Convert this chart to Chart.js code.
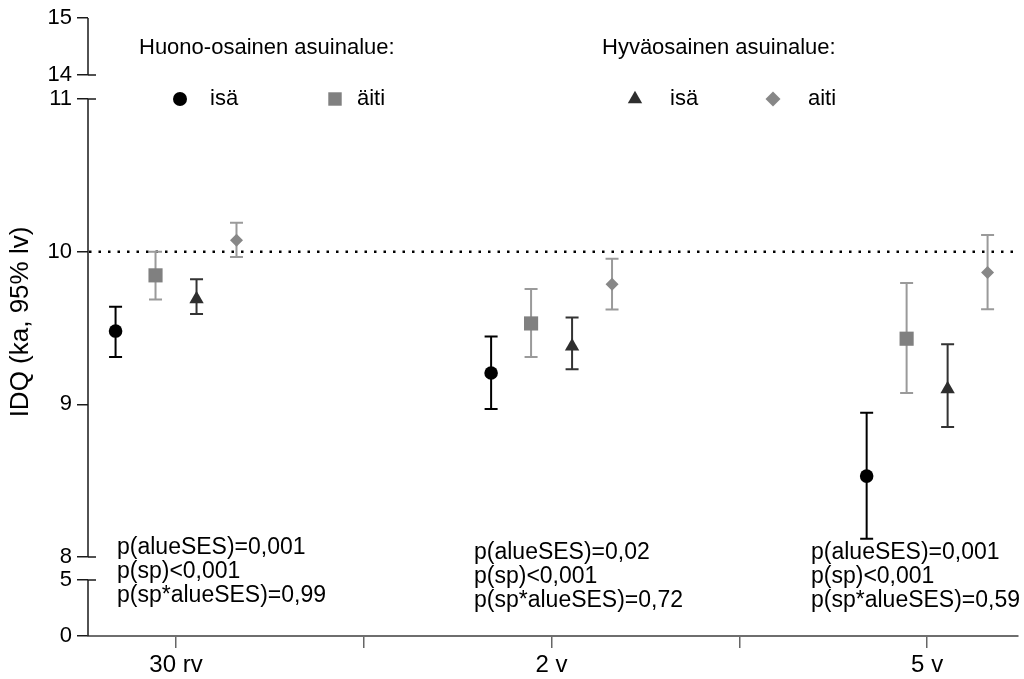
<!DOCTYPE html>
<html>
<head>
<meta charset="utf-8">
<script src="https://cdn.jsdelivr.net/npm/chart.js@4.4.1/dist/chart.umd.min.js"></script>
<style>
  body { margin: 0; background: #fff; }
  canvas { display: block; }
</style>
</head>
<body>
<canvas id="idqChart" width="1024" height="679"></canvas>
<script>
// Data
const categories = ['30 rv', '2 v', '5 v'];
const yTicks = [0, 5, 8, 9, 10, 11, 14, 15];
const refValue = 10;

// Huono-osainen asuinalue
const isaHuono = [9.48, 9.205, 8.53];
const isaHuonoLow = [9.31, 8.97, 8.12];
const isaHuonoHigh = [9.64, 9.445, 8.945];
const aitiHuono = [9.845, 9.53, 9.43];
const aitiHuonoLow = [9.687, 9.31, 9.075];
const aitiHuonoHigh = [10.0, 9.755, 9.795];

// Hyväosainen asuinalue
const isaHyva = [9.69, 9.38, 9.10];
const isaHyvaLow = [9.592, 9.23, 8.851];
const isaHyvaHigh = [9.82, 9.569, 9.393];
const aitiHyva = [10.075, 9.787, 9.864];
const aitiHyvaLow = [9.966, 9.621, 9.623];
const aitiHyvaHigh = [10.19, 9.953, 10.11];

const pNotes = [
    ['p(alueSES)=0,001', 'p(sp)<0,001', 'p(sp*alueSES)=0,99'],
    ['p(alueSES)=0,02', 'p(sp)<0,001', 'p(sp*alueSES)=0,72'],
    ['p(alueSES)=0,001', 'p(sp)<0,001', 'p(sp*alueSES)=0,59']
];

const FONT = '"Liberation Sans", Arial, sans-serif';
Chart.defaults.font.family = FONT;
Chart.defaults.color = '#000';

// broken y axis: each value range gets its own share of the plot height (fraction from bottom)
const ySegments = [
    { from: 0, to: 5, start: 0, end: 0.0906 },
    { from: 8, to: 11, start: 0.1278, end: 0.8689 },
    { from: 14, to: 15, start: 0.9078, end: 1 }
];

function fractionFor(v) {
    for (let i = 0; i < ySegments.length; i++) {
        const s = ySegments[i];
        if (v <= s.to || i === ySegments.length - 1) {
            if (v < s.from && i > 0) {
                // inside a gap: interpolate between the two segment ends
                const p = ySegments[i - 1];
                return p.end + (v - p.to) / (s.from - p.to) * (s.start - p.end);
            }
            return s.start + (v - s.from) / (s.to - s.from) * (s.end - s.start);
        }
    }
    return 0;
}

function valueFor(f) {
    for (let i = 0; i < ySegments.length; i++) {
        const s = ySegments[i];
        if (f <= s.end || i === ySegments.length - 1) {
            return s.from + (f - s.start) / (s.end - s.start) * (s.to - s.from);
        }
    }
    return 0;
}

class BrokenLinearScale extends Chart.LinearScale {
    buildTicks() {
        this.start = this.min;
        this.end = this.max;
        return yTicks.map(v => ({ value: v }));
    }
    getPixelForValue(value) {
        return this.bottom - fractionFor(value) * (this.bottom - this.top);
    }
    getValueForPixel(pixel) {
        return valueFor((this.bottom - pixel) / (this.bottom - this.top));
    }
}
BrokenLinearScale.id = 'brokenLinear';
BrokenLinearScale.defaults = Chart.LinearScale.defaults;
Chart.register(BrokenLinearScale);

const series = [
    { label: 'isä', mean: isaHuono, low: isaHuonoLow, high: isaHuonoHigh, offset: -0.161,
      style: 'circle', radius: 6.8, legendRadius: 7, fill: '#000000', bar: '#000000' },
    { label: 'äiti', mean: aitiHuono, low: aitiHuonoLow, high: aitiHuonoHigh, offset: -0.0546,
      style: 'rect', radius: 10, legendRadius: 9.5, fill: '#808080', bar: '#9a9a9a' },
    { label: 'isä', mean: isaHyva, low: isaHyvaLow, high: isaHyvaHigh, offset: 0.0546,
      style: 'triangle', radius: 8.3, legendRadius: 8.3, fill: '#2e2e2e', bar: '#333333' },
    { label: 'aiti', mean: aitiHyva, low: aitiHyvaLow, high: aitiHyvaHigh, offset: 0.161,
      style: 'rectRot', radius: 6.5, legendRadius: 7.5, fill: '#878787', bar: '#9a9a9a' }
];

// error bars under the markers
const errorBars = {
    id: 'errorBars',
    beforeDatasetsDraw(chart) {
        const ctx = chart.ctx;
        const y = chart.scales.y;
        ctx.save();
        ctx.lineWidth = 2;
        series.forEach((s, di) => {
            const meta = chart.getDatasetMeta(di);
            ctx.strokeStyle = s.bar;
            meta.data.forEach((pt, i) => {
                const x = pt.x;
                const yLo = y.getPixelForValue(s.low[i]);
                const yHi = y.getPixelForValue(s.high[i]);
                ctx.beginPath();
                ctx.moveTo(x, yLo); ctx.lineTo(x, yHi);
                ctx.moveTo(x - 6.5, yLo); ctx.lineTo(x + 6.5, yLo);
                ctx.moveTo(x - 6.5, yHi); ctx.lineTo(x + 6.5, yHi);
                ctx.stroke();
            });
        });
        ctx.restore();
    }
};

// axis line with breaks, dotted reference line, legend, p-values, y title
const decorations = {
    id: 'decorations',
    beforeDatasetsDraw(chart) {
        const ctx = chart.ctx;
        const area = chart.chartArea;
        const yr = chart.scales.y.getPixelForValue(refValue);
        ctx.save();
        ctx.strokeStyle = '#000';
        ctx.lineWidth = 2.5;
        ctx.setLineDash([2.5, 7]);
        ctx.beginPath();
        ctx.moveTo(area.left + 1, yr);
        ctx.lineTo(area.right, yr);
        ctx.stroke();
        ctx.restore();
    },
    afterDraw(chart) {
        const ctx = chart.ctx;
        const area = chart.chartArea;
        const y = chart.scales.y;
        ctx.save();
        ctx.strokeStyle = '#1a1a1a';
        ctx.lineWidth = 1.5;
        ctx.beginPath();
        ySegments.forEach(s => {
            const top = y.getPixelForValue(s.to);
            const bottom = y.getPixelForValue(s.from);
            ctx.moveTo(area.left, bottom);
            ctx.lineTo(area.left, top);
            if (s.from > 0) { ctx.moveTo(area.left, bottom); ctx.lineTo(area.left + 8, bottom); }
            if (s.to < 15) { ctx.moveTo(area.left, top); ctx.lineTo(area.left + 8, top); }
        });
        ctx.stroke();

        // y axis title
        ctx.fillStyle = '#000';
        ctx.save();
        ctx.translate(21, 322);
        ctx.rotate(-Math.PI / 2);
        ctx.textAlign = 'center';
        ctx.textBaseline = 'middle';
        ctx.font = '26px ' + FONT;
        ctx.fillText('IDQ (ka, 95% lv)', 0, 0);
        ctx.restore();

        // legend
        ctx.textBaseline = 'middle';
        ctx.textAlign = 'left';
        ctx.font = '22px ' + FONT;
        ctx.fillText('Huono-osainen asuinalue:', 139, 48);
        ctx.fillText('Hyväosainen asuinalue:', 602, 48);
        const legendPos = [[180, 210], [335, 357], [635, 670], [773, 808]];
        series.forEach((s, i) => {
            const [mx, tx] = legendPos[i];
            ctx.fillStyle = s.fill;
            ctx.strokeStyle = s.fill;
            Chart.helpers.drawPoint(ctx, { pointStyle: s.style, radius: s.legendRadius, rotation: 0, borderWidth: 0 }, mx, 99);
            ctx.fillStyle = '#000';
            ctx.fillText(s.label, tx, 99);
        });

        // p-values
        ctx.font = '23px ' + FONT;
        const notePos = [[117, 548], [474, 553], [811, 553]];
        pNotes.forEach((lines, gi) => {
            lines.forEach((t, li) => {
                ctx.fillText(t, notePos[gi][0], notePos[gi][1] + li * 24);
            });
        });
        ctx.restore();
    }
};

const ctx = document.getElementById('idqChart').getContext('2d');

new Chart(ctx, {
    type: 'scatter',
    data: {
        datasets: series.map(s => ({
            label: s.label,
            data: s.mean.map((v, i) => ({ x: i + s.offset, y: v })),
            pointStyle: s.style,
            pointRadius: s.radius,
            pointBackgroundColor: s.fill,
            pointBorderWidth: 0,
            showLine: false
        }))
    },
    options: {
        responsive: false,
        animation: false,
        events: [],
        layout: { autoPadding: false, padding: { top: 18, right: 6, left: 0, bottom: 0 } },
        plugins: { legend: { display: false }, tooltip: { enabled: false } },
        scales: {
            x: {
                type: 'linear',
                min: -0.2344,
                max: 2.242,
                afterBuildTicks: scale => {
                    scale.ticks = [0, 0.5, 1, 1.5, 2].map(v => ({ value: v }));
                },
                afterFit: scale => {
                    scale.height = 43;
                    scale.paddingLeft = 0;
                    scale.paddingRight = 0;
                },
                grid: { drawOnChartArea: false, drawTicks: true, tickLength: 12, color: '#666', lineWidth: 1.5 },
                border: { display: true, color: '#6e6e6e', width: 2 },
                ticks: {
                    autoSkip: false,
                    maxRotation: 0,
                    padding: 3,
                    font: { size: 24 },
                    color: '#000',
                    callback: v => Number.isInteger(v) ? categories[v] : ''
                }
            },
            y: {
                type: 'brokenLinear',
                min: 0,
                max: 15,
                afterFit: scale => {
                    scale.width = 88;
                    scale.paddingTop = 0;
                    scale.paddingBottom = 0;
                },
                grid: { drawOnChartArea: false, drawTicks: true, tickLength: 11, color: '#1a1a1a', lineWidth: 1.5 },
                border: { display: false },
                ticks: {
                    autoSkip: false,
                    padding: 5,
                    font: { size: 22, lineHeight: 1 },
                    color: '#000'
                }
            }
        }
    },
    plugins: [decorations, errorBars]
});
</script>
</body>
</html>
